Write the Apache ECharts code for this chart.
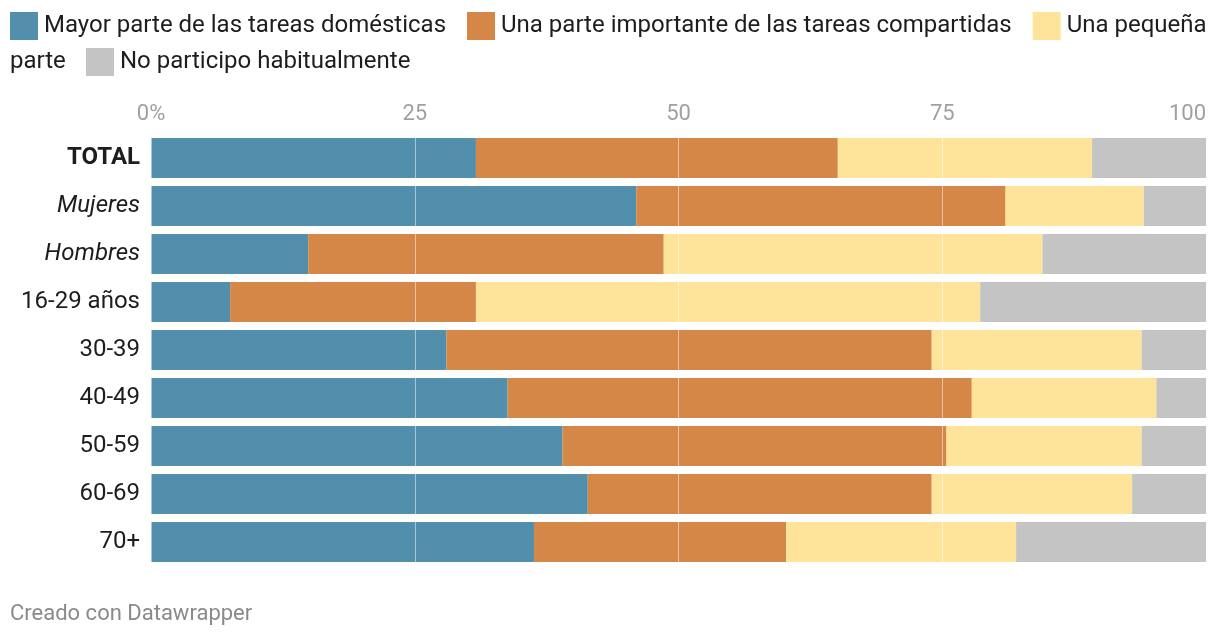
<!DOCTYPE html>
<html>
<head>
<meta charset="utf-8">
<script src="https://cdn.jsdelivr.net/npm/echarts@6/dist/echarts.min.js"></script>
<style>html,body{margin:0;padding:0;background:#fff}#c{width:1220px;height:640px}</style>
</head>
<body>
<div id="c"></div>
<script>
const categories = ['TOTAL', 'Mujeres', 'Hombres', '16-29 años', '30-39', '40-49', '50-59', '60-69', '70+'];
const seriesNames = ['Mayor parte de las tareas domésticas', 'Una parte importante de las tareas compartidas', 'Una pequeña parte', 'No participo habitualmente'];
const mayorParte = [30.8, 46.0, 14.9, 7.5, 28.0, 33.8, 39.0, 41.4, 36.3];
const parteImportante = [34.3, 35.0, 33.7, 23.3, 46.0, 44.0, 36.4, 32.6, 23.9];
const pequenaParte = [24.1, 13.1, 35.9, 47.8, 19.9, 17.5, 18.5, 19.0, 21.8];
const noParticipo = [10.8, 5.9, 15.5, 21.4, 6.1, 4.7, 6.1, 7.0, 18.0];
const gridTicks = [0, 25, 50, 75];
const colors = ['#528fad', '#d48746', '#fee49b', '#c4c4c4'];
const allValues = [mayorParte, parteImportante, pequenaParte, noParticipo];

const chart = echarts.init(document.getElementById('c'), null, {renderer: 'canvas'});
const font = 'Roboto, sans-serif';

const series = allValues.map((vals, i) => ({
  name: seriesNames[i],
  type: 'bar',
  stack: 'total',
  data: vals,
  barWidth: 40,
  itemStyle: {color: colors[i]},
  emphasis: {disabled: true},
  silent: true
}));
series[3].markLine = {
  silent: true,
  symbol: 'none',
  label: {show: false},
  lineStyle: {color: 'rgba(255,255,255,0.5)', width: 1, type: 'solid'},
  data: gridTicks.map(t => ({xAxis: t})),
  animation: false
};

chart.setOption({
  animation: false,
  color: colors,
  textStyle: {fontFamily: font},
  legend: [{
    left: 10, top: 12, padding: 0,
    itemWidth: 28, itemHeight: 28, itemGap: 21,
    icon: 'rect',
    selectedMode: false,
    data: seriesNames.slice(0, 3),
    formatter: n => n === 'Una pequeña parte' ? 'Una pequeña' : n,
    textStyle: {fontFamily: font, fontSize: 24, color: '#1d1d1d', padding: [4, 0, 0, 1]}
  }, {
    left: 86, top: 48, padding: 0,
    itemWidth: 28, itemHeight: 28,
    icon: 'rect',
    selectedMode: false,
    data: seriesNames.slice(3),
    textStyle: {fontFamily: font, fontSize: 24, color: '#1d1d1d', padding: [4, 0, 0, 1]}
  }],
  graphic: [{
    type: 'text', left: 10, top: 50,
    style: {text: 'parte', fontFamily: font, fontSize: 24, fill: '#1d1d1d'}
  }, {
    type: 'text', left: 10, top: 603,
    style: {text: 'Creado con Datawrapper', fontFamily: font, fontSize: 22, fill: '#8a8a8a'}
  }],
  grid: {left: 151, right: 14, top: 134, height: 432, containLabel: false},
  xAxis: {
    type: 'value', position: 'top', min: 0, max: 100, interval: 25,
    axisLine: {show: false}, axisTick: {show: false}, splitLine: {show: false},
    axisLabel: {
      fontFamily: font, fontSize: 22, color: '#a0a0a0', margin: 9,
      formatter: v => v === 0 ? '0%' : String(v),
      alignMaxLabel: 'right'
    }
  },
  yAxis: {
    type: 'category', inverse: true, data: categories,
    axisLine: {show: false}, axisTick: {show: false},
    axisLabel: {
      fontFamily: font, fontSize: 24, color: '#1d1d1d', margin: 11,
      formatter: v => v === 'TOTAL' ? '{b|TOTAL}' : ((v === 'Mujeres' || v === 'Hombres') ? '{i|' + v + '}' : v),
      rich: {
        b: {fontFamily: font, fontSize: 24, fontWeight: 'bold', color: '#1d1d1d'},
        i: {fontFamily: font, fontSize: 24, fontStyle: 'italic', color: '#1d1d1d'}
      }
    }
  },
  series: series
});
</script>
</body>
</html>
